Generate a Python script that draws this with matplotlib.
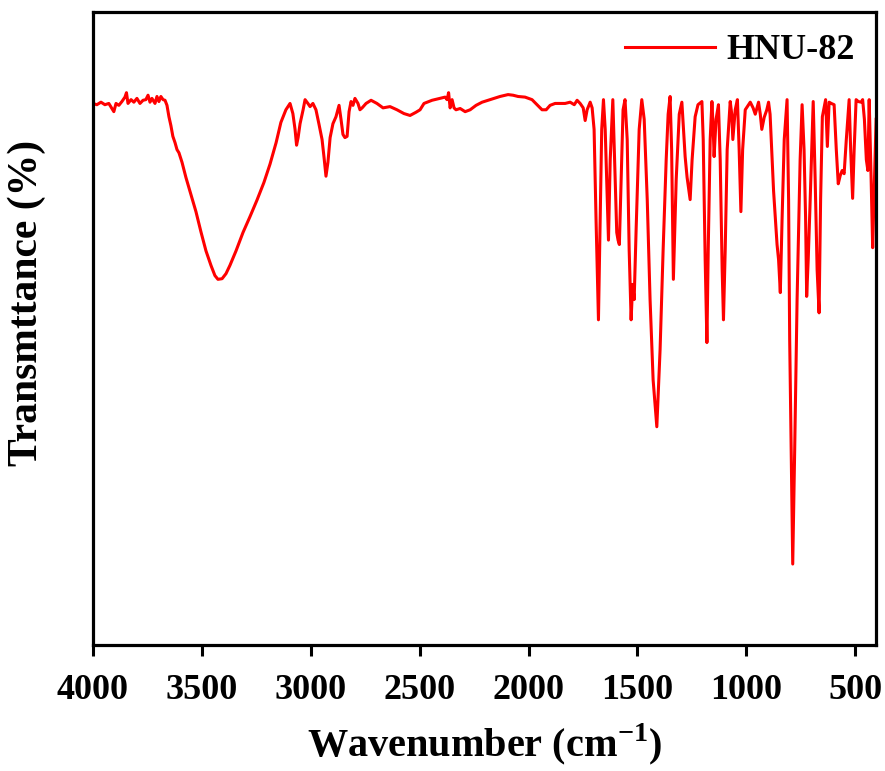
import matplotlib
matplotlib.use("Agg")
import matplotlib.pyplot as plt

# Times-like bold serif, as in the original figure
plt.rcParams['font.family'] = ['Liberation Serif', 'DejaVu Serif']
plt.rcParams['font.weight'] = 'bold'
plt.rcParams['mathtext.fontset'] = 'custom'
plt.rcParams['mathtext.rm'] = 'Liberation Serif:bold'
plt.rcParams['mathtext.bf'] = 'Liberation Serif:bold'

# FT-IR spectrum of HNU-82 (wavenumber in cm-1, transmittance in a.u.)
wavenumber = [
    4000, 3982, 3963, 3945, 3927, 3913, 3904, 3894, 3881, 3867, 3853, 3846, 3839, 3825,
    3812, 3798, 3784, 3770, 3757, 3747, 3738, 3729, 3715, 3706, 3697, 3688, 3678, 3669,
    3660, 3651, 3642, 3633, 3623, 3614, 3605, 3591, 3573, 3550, 3527, 3504, 3481, 3458,
    3440, 3426, 3407, 3389, 3371, 3343, 3311, 3279, 3247, 3215, 3187, 3159, 3137, 3114,
    3095, 3082, 3072, 3065, 3058, 3049, 3035, 3026, 3013, 3003, 2990, 2976, 2962, 2948,
    2939, 2930, 2921, 2911, 2898, 2884, 2870, 2861, 2852, 2843, 2833, 2824, 2815, 2806,
    2797, 2783, 2774, 2764, 2746, 2723, 2696, 2668, 2636, 2604, 2572, 2544, 2517, 2498,
    2480, 2443, 2406, 2383, 2374, 2367, 2360, 2351, 2342, 2333, 2314, 2291, 2268, 2241,
    2213, 2177, 2131, 2094, 2071, 2048, 2016, 1984, 1961, 1938, 1919, 1901, 1878, 1855,
    1832, 1809, 1790, 1777, 1763, 1749, 1740, 1731, 1717, 1708, 1699, 1690, 1679, 1671,
    1664, 1656, 1648, 1633, 1625, 1613, 1605, 1595, 1589, 1583, 1575, 1566, 1557, 1547,
    1538, 1529, 1522, 1515, 1506, 1492, 1480, 1469, 1455, 1442, 1428, 1411, 1396, 1382,
    1368, 1359, 1350, 1343, 1335, 1322, 1308, 1296, 1290, 1281, 1272, 1258, 1249, 1235,
    1222, 1204, 1198, 1189, 1181, 1175, 1166, 1158, 1152, 1148, 1139, 1128, 1120, 1111,
    1105, 1097, 1088, 1074, 1067, 1062, 1051, 1041, 1033, 1025, 1017, 1005, 982, 969,
    959, 944, 936, 929, 918, 906, 898, 891, 875, 859, 852, 844, 836, 826,
    813, 806, 801, 794, 787, 778, 767, 753, 744, 735, 728, 723, 716, 708,
    700, 693, 684, 675, 666, 659, 651, 636, 628, 620, 610, 597, 587, 578,
    569, 560, 551, 541, 528, 521, 512, 505, 496, 486, 473, 466, 458, 449,
    442, 436, 427, 420, 413, 404,
]
transmittance = [
    85.6, 85.4, 85.8, 85.4, 85.6, 84.8, 84.3, 85.6, 85.3, 85.9, 86.6, 87.3, 85.6, 86.2,
    85.8, 86.4, 85.6, 86.1, 86.2, 86.9, 85.8, 86.4, 85.6, 86.7, 85.9, 86.7, 86.2, 86.1,
    85.3, 83.5, 82.1, 80.4, 79.4, 78.3, 77.8, 76.3, 73.9, 71.2, 68.5, 65.3, 62.3, 60.0,
    58.4, 57.8, 57.9, 58.7, 60.0, 62.3, 65.2, 67.7, 70.3, 73.1, 76.0, 79.4, 82.6, 84.6,
    85.6, 84.0, 81.5, 79.0, 80.2, 82.4, 84.6, 86.2, 85.6, 85.1, 85.6, 84.6, 82.3, 79.9,
    77.1, 74.1, 76.3, 80.2, 82.4, 83.5, 85.3, 83.1, 80.7, 80.2, 80.4, 84.3, 85.9, 85.3,
    86.4, 85.6, 84.6, 84.9, 85.6, 86.1, 85.6, 84.9, 85.1, 84.6, 84.0, 83.7, 84.2, 84.6,
    85.6, 86.1, 86.4, 86.6, 86.2, 87.3, 84.9, 86.2, 84.9, 84.6, 84.8, 84.3, 84.6, 85.3,
    85.8, 86.2, 86.7, 87.0, 86.9, 86.7, 86.6, 86.2, 85.4, 84.6, 84.6, 85.3, 85.6, 85.6,
    85.6, 85.8, 85.4, 86.1, 85.6, 84.9, 82.9, 84.6, 85.8, 84.9, 81.5, 67.2, 51.4, 67.2,
    81.5, 86.2, 81.5, 64.0, 76.7, 86.2, 76.7, 65.2, 64.0, 63.3, 73.6, 84.6, 86.2, 79.9,
    62.5, 51.4, 57.0, 54.6, 65.7, 81.5, 86.2, 83.1, 70.4, 54.6, 41.9, 34.5, 46.7, 62.5,
    76.7, 83.9, 86.7, 78.3, 57.8, 73.6, 83.9, 85.8, 82.3, 77.2, 73.9, 70.4, 76.7, 83.5,
    85.4, 85.9, 79.9, 60.9, 47.8, 62.5, 79.9, 85.9, 81.5, 77.2, 83.1, 85.4, 76.7, 59.3,
    51.4, 62.5, 78.3, 85.9, 83.9, 79.9, 84.6, 86.2, 78.3, 68.5, 78.3, 84.6, 85.8, 84.9,
    83.9, 85.8, 83.9, 81.5, 83.4, 84.6, 85.8, 83.9, 71.8, 63.3, 60.9, 55.7, 67.2, 79.9,
    86.2, 70.4, 48.3, 30.9, 12.8, 30.9, 54.6, 76.7, 85.4, 78.3, 67.6, 55.1, 60.9, 69.1,
    78.3, 85.9, 73.6, 59.3, 52.5, 70.4, 83.5, 86.2, 78.8, 85.8, 85.6, 85.4, 78.3, 72.9,
    74.2, 75.0, 74.5, 79.9, 86.2, 78.3, 70.6, 78.3, 86.2, 85.9, 85.8, 86.2, 83.1, 76.7,
    75.0, 86.2, 73.6, 62.8, 72.0, 83.1,
]
sample_name = 'HNU-82'
xticks = [4000, 3500, 3000, 2500, 2000, 1500, 1000, 500]

fig = plt.figure(figsize=(8.85, 7.71), dpi=100)
ax = fig.add_axes([0.105, 0.1634, 0.885, 0.8206])

ax.plot(wavenumber, transmittance, color='#ff0000', linewidth=2.2, label=sample_name)

ax.set_xlim(4000, 404)
ax.set_ylim(0, 100)
ax.set_xticks(xticks)
ax.set_yticks([])
ax.tick_params(axis='x', direction='out', length=8, width=2.2, pad=13, labelsize=26)
for lbl in ax.get_xticklabels():
    lbl.set_fontweight('bold')
for s in ax.spines.values():
    s.set_linewidth(2.3)

ax.set_xlabel('Wavenumber (cm$^{-1}$)', fontsize=29, fontweight='bold')
ax.xaxis.set_label_coords(0.5, -0.12)
ax.set_ylabel('Transmttance (%)', fontsize=30, fontweight='bold')
ax.yaxis.set_label_coords(-0.06, 0.54)

leg = ax.legend(loc='upper right', frameon=False, handlelength=2.5,
                borderaxespad=0.2, handletextpad=0.3, prop={'weight': 'bold', 'size': 26})

fig.savefig('out.png', dpi=100)
